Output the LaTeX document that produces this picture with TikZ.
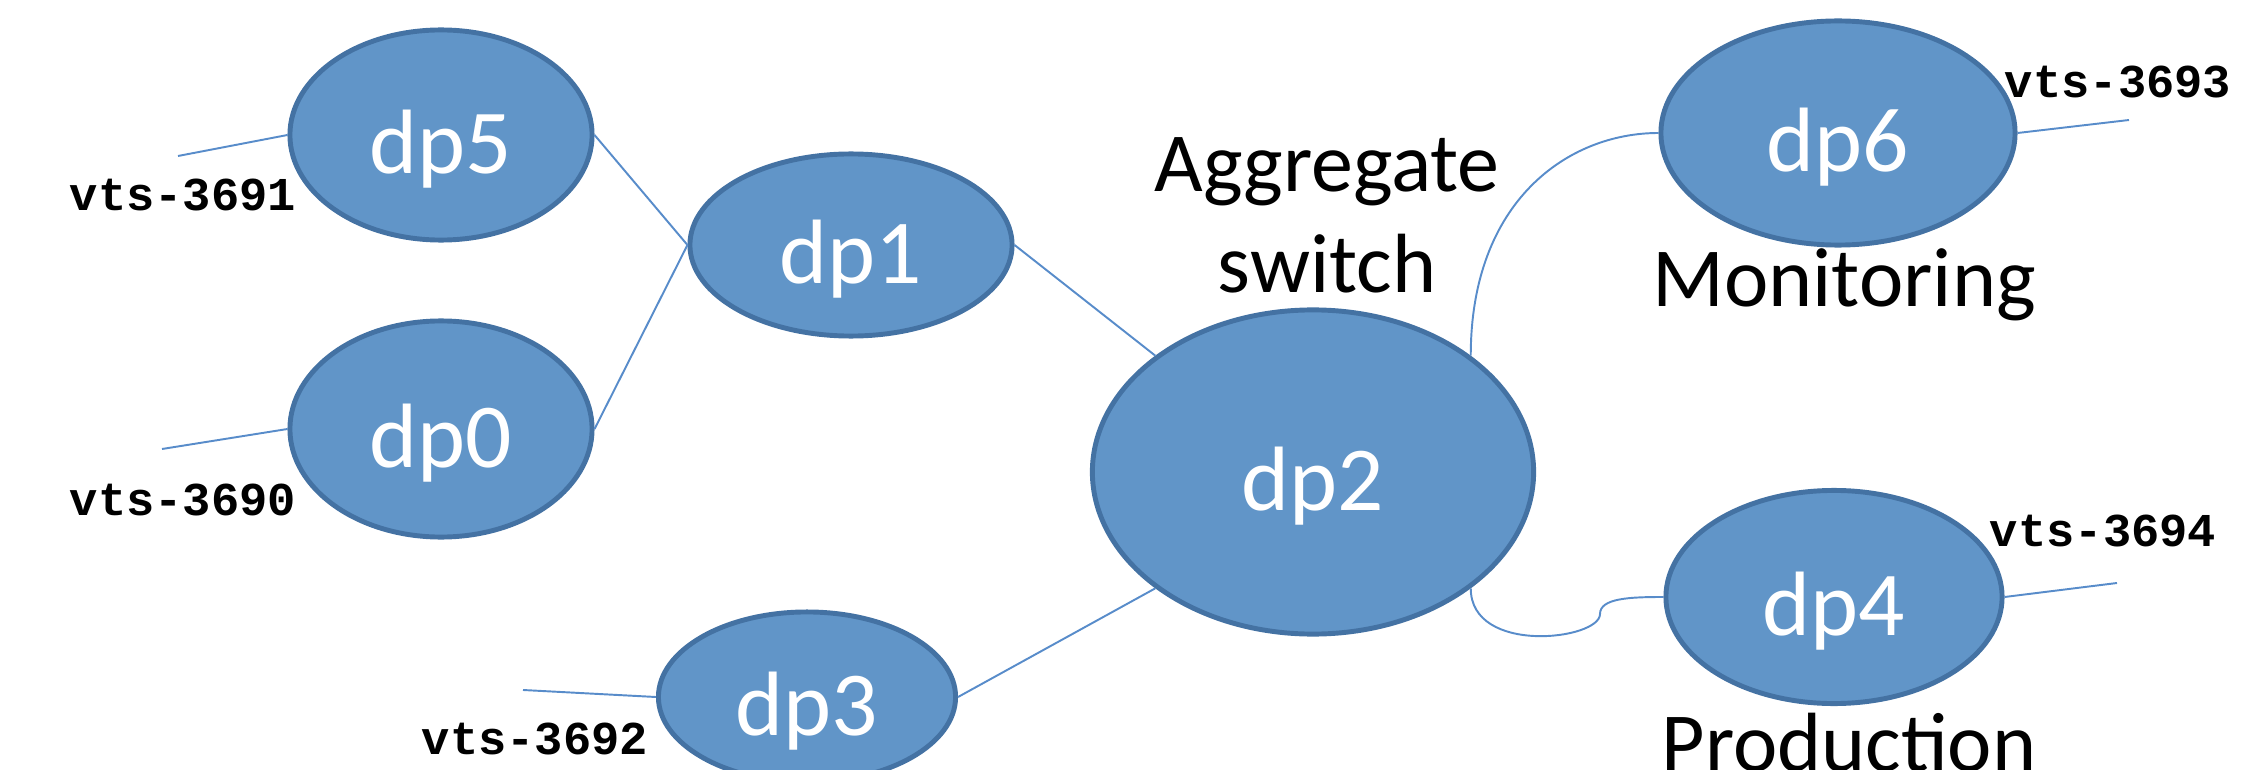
\documentclass[tikz,border=0pt]{standalone}
\usepackage{fontspec}
\setmainfont{Carlito}
\setmonofont{Liberation Mono}
\usetikzlibrary{shapes.geometric}
\definecolor{dpfill}{RGB}{97,149,200}
\definecolor{dpedge}{RGB}{68,114,163}
\definecolor{wireblue}{RGB}{88,140,202}

\begin{document}
\begin{tikzpicture}[x=0.01cm,y=-0.01cm,
    dp/.style={ellipse,draw=dpedge,fill=dpfill,line width=1.4pt,inner sep=0pt,
      text=white,font=\fontsize{26}{26}\selectfont,text height=0.76cm,text depth=0pt},
    wire/.style={draw=wireblue,line width=0.55pt},
    vts/.style={font=\ttfamily\bfseries\fontsize{13.4}{14}\selectfont,anchor=base,inner sep=0pt},
    role/.style={font=\fontsize{23.9}{28.7}\selectfont,align=center,inner sep=0pt}]
      \useasboundingbox (0,0) rectangle (2248,770);
      \clip (0,0) rectangle (2248,770);
      \node[dp,minimum width=3.02cm,minimum height=2.10cm] (dp5) at (441,135) {dp5};
      \node[dp,minimum width=3.02cm,minimum height=2.16cm] (dp0) at (441,429) {dp0};
      \node[dp,minimum width=3.22cm,minimum height=1.82cm] (dp1) at (851,245) {dp1};
      \node[dp,minimum width=2.97cm,minimum height=1.70cm] (dp3) at (807,697) {dp3};
      \node[dp,minimum width=4.41cm,minimum height=3.24cm] (dp2) at (1313,472) {dp2};
      \node[dp,minimum width=3.54cm,minimum height=2.24cm] (dp6) at (1838,133) {dp6};
      \node[dp,minimum width=3.36cm,minimum height=2.13cm] (dp4) at (1834,597) {dp4};
      \coordinate (t5) at (178,156);
      \coordinate (t0) at (162,449);
      \coordinate (t3) at (523,690);
      \coordinate (t6) at (2129,120);
      \coordinate (t4) at (2117,583);
      \coordinate (bend) at (1600,614);
      \draw[wire] (dp5.west) -- (t5);
      \draw[wire] (dp0.west) -- (t0);
      \draw[wire] (dp3.west) -- (t3);
      \draw[wire] (dp6.east) -- (t6);
      \draw[wire] (dp4.east) -- (t4);
      \draw[wire] (dp5.east) -- (dp1.west);
      \draw[wire] (dp0.east) -- (dp1.west);
      \draw[wire] (dp1.east) -- (dp2.north west);
      \draw[wire] (dp3.east) -- (dp2.south west);
      \draw[wire] (dp2.north east) .. controls +(0,-155) and +(-90,0) .. (dp6.west);
      \draw[wire] (dp2.south east) .. controls +(0,67) and +(0,26) .. (bend)
        .. controls +(0,-16) and +(-33,0) .. (dp4.west);
      \node[role] (agg) at (1327,215) {Aggregate\\switch};
      \node[role,anchor=base] (mon) at (1844,307) {Monitoring};
      \node[role,anchor=base] (prod) at (1849,771) {Production};
      \node[vts] (v5) at (183,211) {vts-3691};
      \node[vts] (v0) at (183,515) {vts-3690};
      \node[vts] (v3) at (535,754) {vts-3692};
      \node[vts] (v6) at (2118,98) {vts-3693};
      \node[vts] (v4) at (2103,546) {vts-3694};
    \end{tikzpicture}
\end{document}
